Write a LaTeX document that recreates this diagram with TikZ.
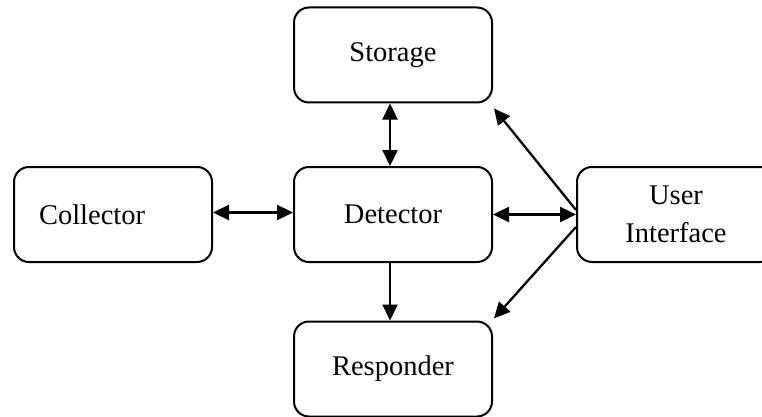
\documentclass[tikz,border=0pt]{standalone}
\usepackage{fontspec}
\setmainfont{Liberation Serif}
\usetikzlibrary{arrows.meta,positioning}

\begin{document}
\begin{tikzpicture}[x=1pt,y=-1pt,
    block/.style={draw,line width=2pt,rounded corners=15pt,minimum width=198pt,
                  minimum height=95pt,inner sep=0pt,align=center,
                  font=\fontsize{28.5}{38}\selectfont},
    link/.style={line width=2.3pt,-{Triangle[length=16pt,width=15pt]}},
    dlink/.style={line width=2.3pt,{Triangle[length=16pt,width=15pt]}-{Triangle[length=16pt,width=15pt]}}]
  \useasboundingbox (0,0) rectangle (762,417);
  \clip (0,0) rectangle (762,417);
  \node[block] (storage)   at (393,55)    {Storage};
  \node[block] (detector)  at (393,214.5) {Detector};
  \node[block,text width=148pt,inner xsep=25pt,align=left] (collector) at (113,214.5) {Collector};
  \node[block] (ui)        at (676,214.5) {User\\Interface};
  \node[block] (responder) at (393,369)   {Responder};
  % connectors
  \draw[dlink] ([xshift=-3pt]storage.south) -- ([xshift=-3pt]detector.north);
  \draw[dlink] ([yshift=2pt]collector.east) -- ([yshift=2pt]detector.west);
  \draw[dlink] (detector.east) -- (ui.west);
  \draw[link] ([xshift=-3pt]detector.south) -- ([xshift=-3pt]responder.north);
  \draw[link] ([yshift=4.5pt]ui.west) -- ([xshift=1pt,yshift=-5pt]storage.south east);
  \draw[link] ([yshift=-12.5pt]ui.west) -- ([xshift=1pt,yshift=2pt]responder.north east);
\end{tikzpicture}
\end{document}
